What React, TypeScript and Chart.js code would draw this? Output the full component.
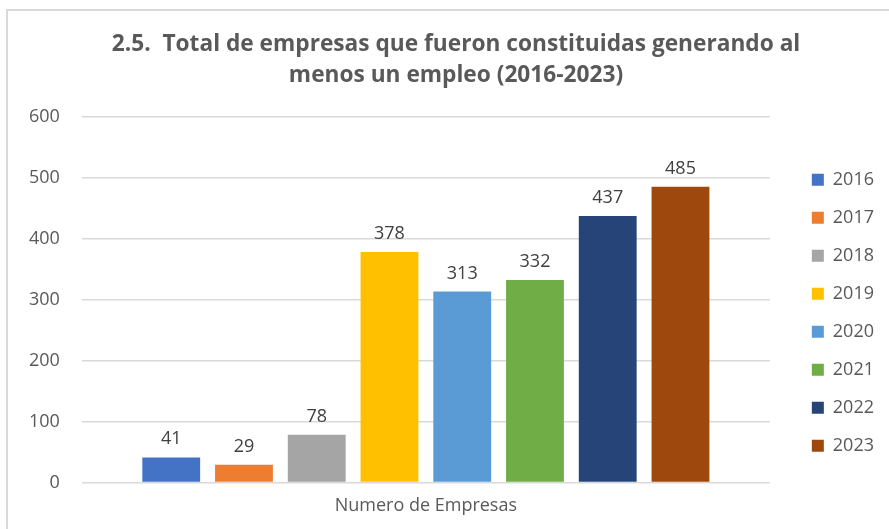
import React, { useEffect, useRef } from "react";
import { Chart, registerables } from "chart.js";

Chart.register(...registerables);

const categories = ["Numero de Empresas"];
const years = ["2016", "2017", "2018", "2019", "2020", "2021", "2022", "2023"];
const values = [41, 29, 78, 378, 313, 332, 437, 485];
const colors = ["#4472C4", "#ED7D31", "#A5A5A5", "#FFC000", "#5B9BD5", "#70AD47", "#264478", "#9E480E"];
const yTicks = [0, 100, 200, 300, 400, 500, 600];
const titleLines = ["2.5.  Total de empresas que fueron constituidas generando al", "menos un empleo (2016-2023)"];

const FONT = "'Open Sans', 'Noto Sans', sans-serif";

const labelPlugin = {
  id: "barLabels",
  afterDatasetsDraw(chart: any) {
    const ctx = chart.ctx;
    ctx.save();
    ctx.font = `18px ${FONT}`;
    ctx.fillStyle = "#404040";
    ctx.textAlign = "center";
    ctx.textBaseline = "alphabetic";
    chart.data.datasets.forEach((ds: any, i: number) => {
      const meta = chart.getDatasetMeta(i);
      meta.data.forEach((el: any, j: number) => {
        ctx.fillText(String(ds.data[j]), el.x, el.y - 13);
      });
    });
    ctx.restore();
  },
};

const titleShiftPlugin = {
  id: "titleShift",
  afterLayout(chart: any) {
    if (chart.titleBlock) {
      chart.titleBlock.left += 21;
    }
  },
};

export default function App() {
  const ref = useRef<HTMLCanvasElement | null>(null);
  useEffect(() => {
    document.body.style.margin = "0";
    const chart = new Chart(ref.current!, {
      type: "bar",
      data: {
        labels: categories,
        datasets: years.map((y, i) => ({
          label: y,
          data: [values[i]],
          backgroundColor: colors[i],
          borderWidth: 0,
          categoryPercentage: 0.846,
          barPercentage: 0.795,
        })),
      },
      options: {
        animation: false,
        responsive: false,
        maintainAspectRatio: false,
        layout: { padding: { left: 7, right: 5, top: 29, bottom: 7 } },
        plugins: {
          title: {
            display: true,
            text: titleLines,
            color: "#595959",
            font: { family: FONT, size: 22.7, weight: "bold", lineHeight: 1.38 },
            padding: { top: 0, bottom: 25 },
          },
          legend: {
            position: "right",
            title: {
              display: true,
              text: " ",
              font: { family: FONT, size: 12 },
              padding: { top: 0, bottom: 60 },
            },
            labels: {
              boxWidth: 12,
              boxHeight: 12,
              padding: 20,
              color: "#595959",
              font: { family: FONT, size: 18 },
            },
          },
          tooltip: { enabled: false },
        },
        scales: {
          x: {
            grid: { display: false },
            border: { display: false },
            ticks: { color: "#595959", font: { family: FONT, size: 18 }, padding: 5 },
          },
          y: {
            min: 0,
            max: 600,
            afterBuildTicks: (axis: any) => {
              axis.ticks = yTicks.map((v) => ({ value: v }));
            },
            grid: { color: "#d9d9d9", lineWidth: 1.5, drawTicks: false },
            border: { display: false },
            ticks: { color: "#595959", font: { family: FONT, size: 18 }, padding: 22 },
          },
          gap: {
            position: "right",
            display: true,
            grid: { display: false, drawTicks: false },
            border: { display: false },
            ticks: { display: false },
            afterFit: (axis: any) => {
              axis.width = 22;
            },
          },
        },
      },
      plugins: [labelPlugin, titleShiftPlugin],
    });
    return () => chart.destroy();
  }, []);
  return (
    <div style={{ position: "relative", width: 889, height: 529, background: "#fff", overflow: "hidden" }}>
      <div
        style={{
          position: "absolute",
          left: 6,
          top: 9,
          width: 900,
          height: 540,
          borderLeft: "2px solid #d9d9d9",
          borderTop: "2px solid #d9d9d9",
        }}
      />
      <canvas ref={ref} width={889} height={529} style={{ position: "absolute", left: 0, top: 0 }} />
    </div>
  );
}
